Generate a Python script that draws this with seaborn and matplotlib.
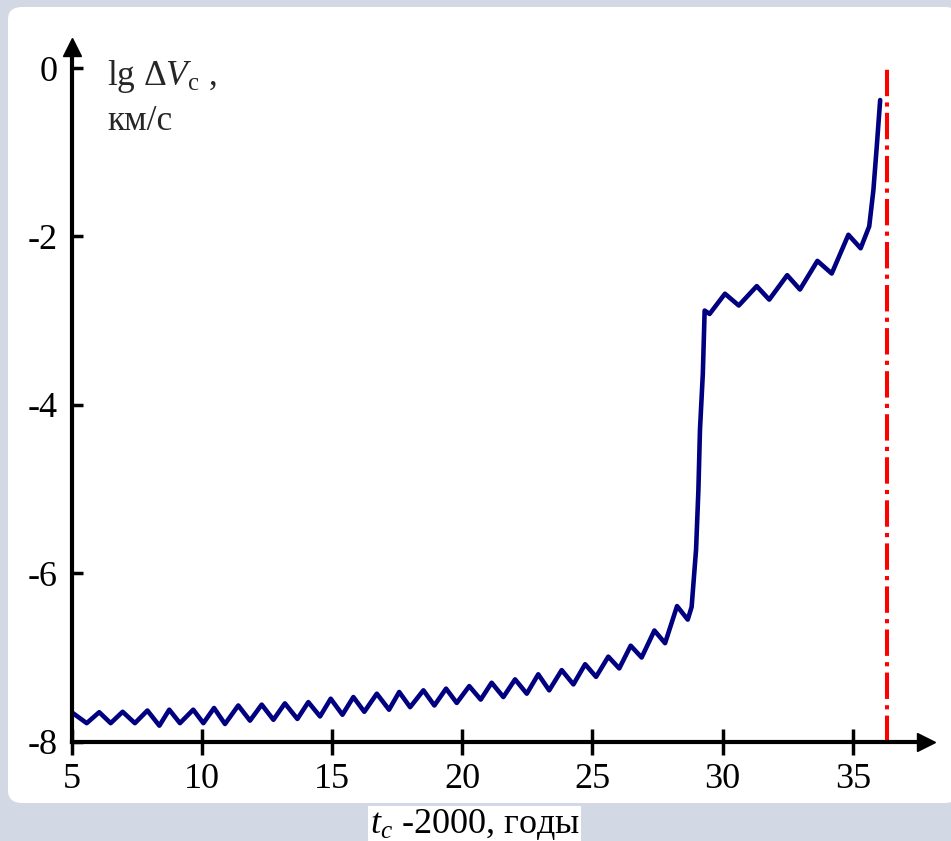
import matplotlib
matplotlib.use("Agg")
import matplotlib.pyplot as plt
from matplotlib.patches import FancyBboxPatch
import seaborn as sns

# lg dV_c vs t_c - 2000 (extrema and jump points)
years = [5.00, 5.58, 6.06, 6.50, 6.96, 7.43, 7.91, 8.37, 8.75, 9.16,
         9.67, 10.06, 10.47, 10.89, 11.40, 11.85, 12.30, 12.75, 13.19, 13.67,
         14.09, 14.54, 14.95, 15.40, 15.82, 16.24, 16.72, 17.19, 17.58, 18.00,
         18.51, 18.93, 19.38, 19.79, 20.27, 20.71, 21.13, 21.58, 22.03, 22.48,
         22.92, 23.34, 23.82, 24.27, 24.72, 25.14, 25.61, 26.03, 26.47, 26.89,
         27.38, 27.79, 28.25, 28.66, 28.81, 28.98, 29.07, 29.13, 29.24, 29.31,
         29.50, 30.09, 30.62, 31.31, 31.79, 32.48, 32.97, 33.64, 34.19, 34.83,
         35.30, 35.63, 35.79, 35.92, 36.05]
lg_dv = [-7.65, -7.78, -7.65, -7.78, -7.645, -7.78, -7.63, -7.81, -7.62, -7.78,
         -7.62, -7.78, -7.60, -7.79, -7.57, -7.75, -7.56, -7.74, -7.545, -7.73,
         -7.53, -7.70, -7.49, -7.68, -7.47, -7.645, -7.43, -7.62, -7.41, -7.59,
         -7.39, -7.57, -7.37, -7.54, -7.34, -7.50, -7.30, -7.47, -7.26, -7.43,
         -7.20, -7.39, -7.15, -7.32, -7.08, -7.23, -6.99, -7.13, -6.86, -7.00,
         -6.68, -6.83, -6.39, -6.55, -6.40, -5.72, -5.01, -4.30, -3.63, -2.88,
         -2.92, -2.68, -2.82, -2.59, -2.75, -2.46, -2.63, -2.29, -2.44, -1.98,
         -2.14, -1.88, -1.45, -0.93, -0.38]
asymptote_year = 36.3
asymptote_span = [-8, 0]

x_ticks = [5, 10, 15, 20, 25, 30, 35]
y_ticks = [-8, -6, -4, -2, 0]

sns.set_style("white")
plt.rcParams["font.family"] = ["Liberation Serif", "DejaVu Serif"]
plt.rcParams["mathtext.fontset"] = "custom"
plt.rcParams["mathtext.rm"] = "Liberation Serif"
plt.rcParams["mathtext.it"] = "Liberation Serif:italic"
plt.rcParams["axes.unicode_minus"] = False
plt.rcParams["lines.scale_dashes"] = False

fig = plt.figure(figsize=(9.51, 8.41), dpi=100, facecolor="#d3d8e5")
# white rounded panel over the grey-blue backdrop
fig.patches.append(FancyBboxPatch((8 / 951, 38 / 841), 1.0, 796 / 841,
                                  boxstyle="round,pad=0,rounding_size=0.015",
                                  transform=fig.transFigure, facecolor="white",
                                  edgecolor="none", zorder=-1))

ax = fig.add_axes([0.0753, 0.1181, 0.8984, 0.826])
ax.set_zorder(2)
ax.patch.set_visible(False)

sns.lineplot(x=years, y=lg_dv, ax=ax, color="#000080", lw=3.3,
             sort=False, estimator=None)
ax.lines[-1].set_solid_joinstyle("round")
ax.vlines(asymptote_year, asymptote_span[0], asymptote_span[1], colors="#ff0000",
          lw=2.9, linestyles=[(0, (19, 4.5, 3, 4.5))])

ax.set_xlim(5, 37.81)
ax.set_ylim(-8, 0.25)

for s in ["top", "right"]:
    ax.spines[s].set_visible(False)
for s in ["left", "bottom"]:
    ax.spines[s].set_color("black")
    ax.spines[s].set_linewidth(3)

# axis arrows
ax.plot(1, 0, ">k", ms=13, transform=ax.transAxes, clip_on=False)
ax.plot(0, 1, "^k", ms=13, transform=ax.transAxes, clip_on=False)

ax.set_xticks(x_ticks)
ax.set_yticks(y_ticks)
ax.set_xticklabels([str(t) for t in x_ticks])
ax.set_yticklabels([str(t) for t in y_ticks])
ax.tick_params(axis="x", bottom=True, direction="inout", length=19, width=2.5,
               pad=6, labelsize=26, colors="black")
ax.tick_params(axis="y", left=True, direction="in", length=8, width=2.5, pad=10,
               labelsize=26, colors="black")

ax.text(0.0414, 0.9454, r"$\mathrm{lg}\ \Delta V_{\mathrm{c}}$ ,", transform=ax.transAxes,
        ha="left", va="baseline", fontsize=25.5)
ax.text(0.0414, 0.8807, "км/с", transform=ax.transAxes,
        ha="left", va="baseline", fontsize=25.5)

ax.set_xlabel(r"$t_c$ -2000, годы", fontsize=26, color="black",
              bbox=dict(facecolor="white", edgecolor="none", pad=1))
ax.xaxis.set_label_coords(0.472, -0.1314)
ax.xaxis.label.set_va("baseline")

fig.savefig("out.png", dpi=100, facecolor=fig.get_facecolor())
